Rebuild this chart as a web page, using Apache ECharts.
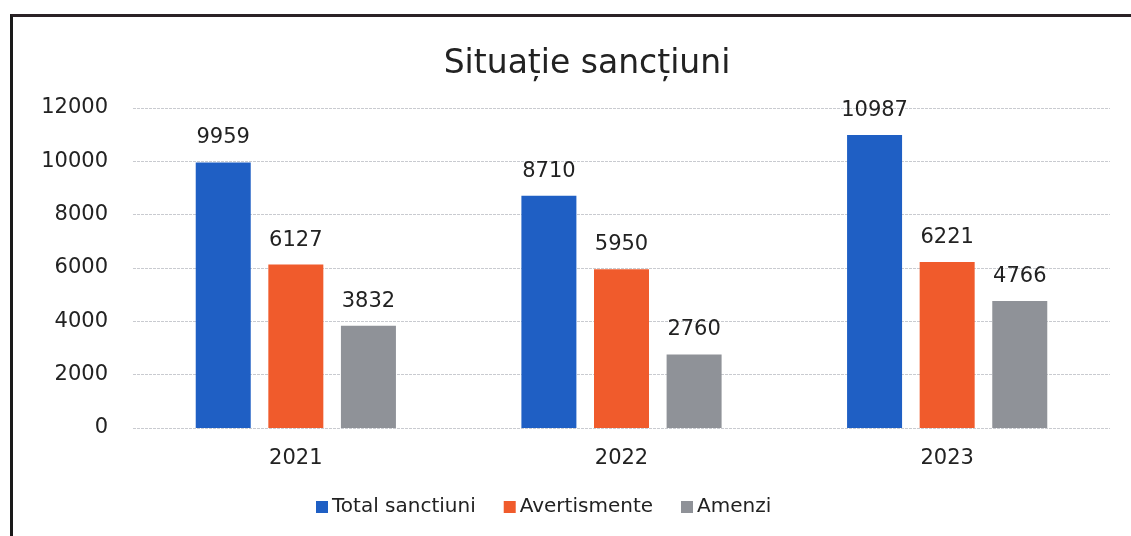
<!DOCTYPE html>
<html>
<head>
<meta charset="utf-8">
<script src="https://cdn.jsdelivr.net/npm/echarts@6/dist/echarts.min.js"></script>
<style>
  html, body { margin: 0; padding: 0; background: #fff; }
  #frame { position: absolute; left: 10px; top: 14px; width: 1121px; height: 522px;
           border-top: 3px solid #2a2226; border-left: 3px solid #1a1a1a; box-sizing: border-box; }
  #main { position: absolute; left: 0; top: 0; width: 1131px; height: 536px; }
</style>
</head>
<body>
<div id="frame"></div>
<div id="main"></div>
<script>
// date
var years = ['2021', '2022', '2023'];
var total = [9959, 8710, 10987];
var avertismente = [6127, 5950, 6221];
var amenzi = [3832, 2760, 4766];
var seriesNames = ['Total sanctiuni', 'Avertismente', 'Amenzi'];
var colors = ['#1f5fc4', '#f05b2c', '#8f9298'];

var chart = echarts.init(document.getElementById('main'));
var font = '"DejaVu Sans", sans-serif';

function bar(name, data, color) {
  return {
    name: name,
    type: 'bar',
    data: data,
    barWidth: 55,
    barGap: '32%',
    itemStyle: { color: color },
    label: {
      show: true,
      position: 'top',
      distance: 14,
      color: '#222',
      fontSize: 21,
      fontFamily: font
    }
  };
}

var option = {
  animation: false,
  backgroundColor: 'transparent',
  title: {
    text: 'Situație sancțiuni',
    left: 582,
    top: 43,
    textAlign: 'center',
    textStyle: { fontSize: 33, fontWeight: 'normal', color: '#222', fontFamily: font }
  },
  legend: {
    data: seriesNames,
    left: 311,
    top: 492,
    itemWidth: 12,
    itemHeight: 12,
    itemGap: 28,
    icon: 'rect',
    textStyle: { fontSize: 20, color: '#222', fontFamily: font, padding: [0, 0, 0, -1] }
  },
  grid: { left: 133, right: 21, top: 108, bottom: 108 },
  xAxis: {
    type: 'category',
    data: years,
    axisLine: { show: false },
    axisTick: { show: false },
    axisLabel: { fontSize: 21, color: '#222', margin: 20, fontFamily: font }
  },
  yAxis: {
    type: 'value',
    min: 0,
    max: 12000,
    interval: 2000,
    axisLine: { show: false },
    axisTick: { show: false },
    axisLabel: {
      fontSize: 21, color: '#222', margin: 25, fontFamily: font,
      formatter: function (v) { return String(v); }
    },
    splitLine: { lineStyle: { color: '#c9cbd0', type: [3, 1], width: 1 } }
  },
  series: [
    bar(seriesNames[0], total, colors[0]),
    bar(seriesNames[1], avertismente, colors[1]),
    bar(seriesNames[2], amenzi, colors[2])
  ]
};
chart.setOption(option);
</script>
</body>
</html>
